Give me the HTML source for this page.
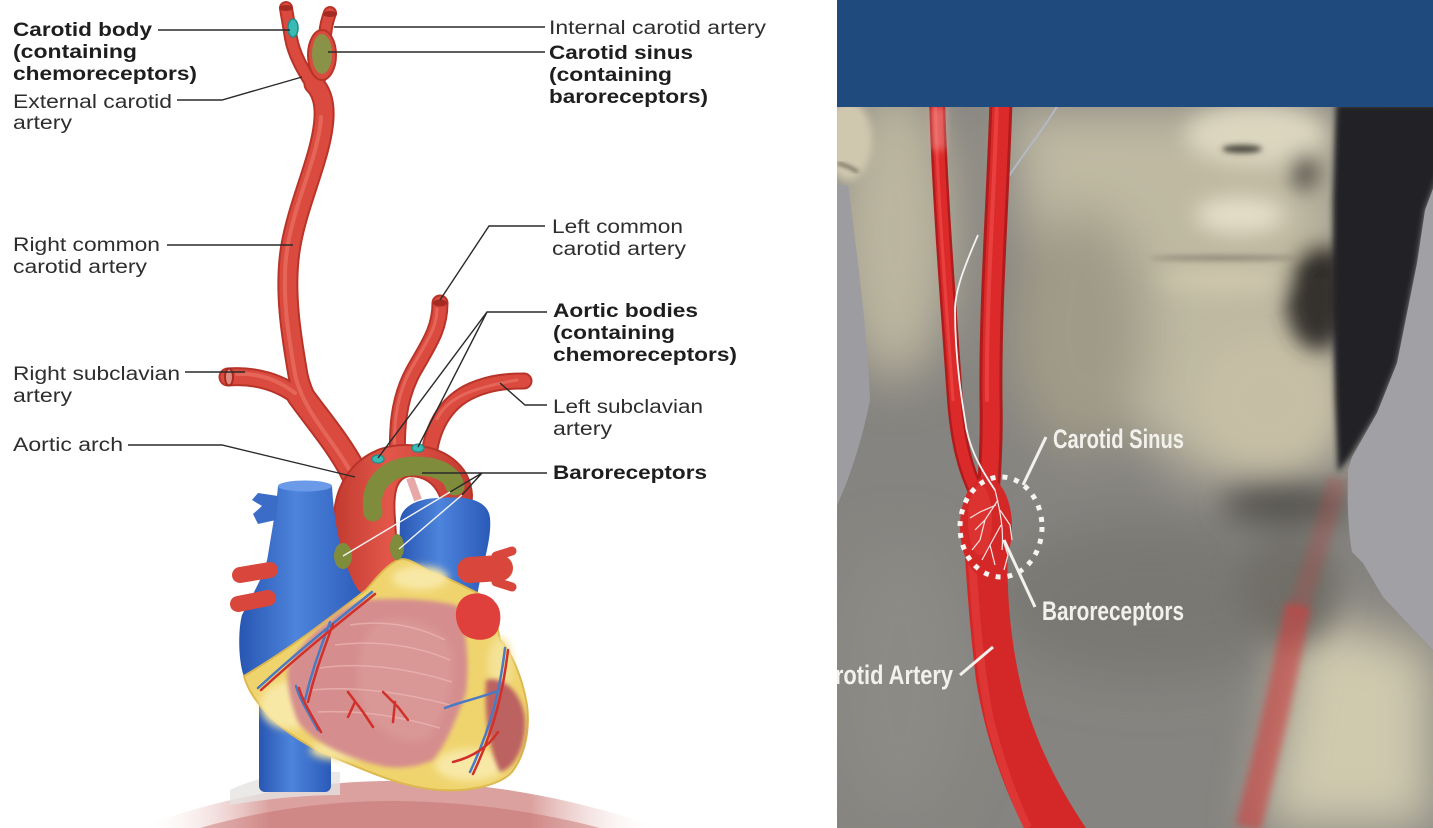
<!DOCTYPE html>
<html><head><meta charset="utf-8"><style>
html,body{margin:0;padding:0;background:#fff;width:1433px;height:828px;overflow:hidden;}
svg{display:block}
.l{font-family:"Liberation Sans",Arial,sans-serif;font-size:19px;fill:#2e2e2e}
.b{font-family:"Liberation Sans",Arial,sans-serif;font-size:19px;font-weight:bold;fill:#1e1e1e}
.w{font-family:"Liberation Sans Narrow","Liberation Sans",Arial,sans-serif;font-size:27px;font-weight:bold;fill:#f2f1ec}
</style></head><body>
<svg width="1433" height="828" viewBox="0 0 1433 828" xmlns="http://www.w3.org/2000/svg">
<defs>
 <filter id="b25" x="-50%" y="-50%" width="200%" height="200%"><feGaussianBlur stdDeviation="25"/></filter>
 <filter id="b15" x="-50%" y="-50%" width="200%" height="200%"><feGaussianBlur stdDeviation="15"/></filter>
 <filter id="b10" x="-50%" y="-50%" width="200%" height="200%"><feGaussianBlur stdDeviation="10"/></filter>
 <filter id="b4" x="-50%" y="-50%" width="200%" height="200%"><feGaussianBlur stdDeviation="4"/></filter>
 <filter id="b3" x="-50%" y="-50%" width="200%" height="200%"><feGaussianBlur stdDeviation="3"/></filter>
 <filter id="b2" x="-20%" y="-20%" width="140%" height="140%"><feGaussianBlur stdDeviation="2"/></filter>
 <clipPath id="rp"><rect x="837" y="107" width="596" height="721"/></clipPath>
 <clipPath id="lp"><rect x="0" y="0" width="837" height="828"/></clipPath>
 <linearGradient id="baseG" x1="0" x2="1" y1="0" y2="0">
  <stop offset="0" stop-color="#fff" stop-opacity="0"/>
  <stop offset="0.25" stop-color="#dba19e"/>
  <stop offset="0.75" stop-color="#dba19e"/>
  <stop offset="1" stop-color="#fff" stop-opacity="0"/>
 </linearGradient>
 <linearGradient id="blueG" x1="0" x2="1" y1="0" y2="0">
  <stop offset="0" stop-color="#2856b2"/>
  <stop offset="0.45" stop-color="#4d84dc"/>
  <stop offset="1" stop-color="#2a5ab8"/>
 </linearGradient>
 <linearGradient id="redG" x1="0" x2="1" y1="0" y2="0">
  <stop offset="0" stop-color="#c23a30"/>
  <stop offset="0.4" stop-color="#e2574a"/>
  <stop offset="1" stop-color="#c43a30"/>
 </linearGradient>
</defs>

<!-- ================= LEFT PANEL ================= -->
<rect x="0" y="0" width="837" height="828" fill="#fff"/>
<g clip-path="url(#lp)">
<path d="M140 828 C220 796 320 780 400 781 C490 782 580 800 660 828 Z" fill="url(#baseG)"/>
<path d="M200 828 C270 808 340 800 400 801 C470 802 540 812 600 828 Z" fill="#c46a68" opacity=".45"/>
<path d="M230 790 C260 775 300 770 340 772 L340 795 C300 795 260 800 230 805 Z" fill="#e6e2e2" opacity=".8"/>

<g fill="none" stroke-linecap="round">
 <g stroke="#b83429">
  <path d="M355 475 C340 445 318 420 300 395" stroke-width="28"/>
  <path d="M352 470 C335 440 305 410 298 375 C292 340 283 290 291 245 C299 200 322 155 324 118 C325 100 320 90 314 84" stroke-width="21"/>
  <path d="M228 377 C255 375 280 382 300 398 C320 415 340 440 352 465" stroke-width="19"/>
  <path d="M313 86 C303 70 294 55 291 38 C289 25 287 15 286 8" stroke-width="14"/>
  <path d="M317 86 C322 70 324 52 325 35 C326 25 328 18 330 13" stroke-width="14"/>
  <path d="M398 470 C396 430 398 400 413 372 C428 345 440 330 440 303" stroke-width="17"/>
  <path d="M428 472 C428 430 445 402 473 390 C492 382 508 381 524 381" stroke-width="17"/>
 </g>
 <g stroke="#da4a3f">
  <path d="M355 475 C340 445 318 420 300 395" stroke-width="24"/>
  <path d="M352 470 C335 440 305 410 298 375 C292 340 283 290 291 245 C299 200 322 155 324 118 C325 100 320 90 314 84" stroke-width="17"/>
  <path d="M228 377 C255 375 280 382 300 398 C320 415 340 440 352 465" stroke-width="15"/>
  <path d="M313 86 C303 70 294 55 291 38 C289 25 287 15 286 8" stroke-width="10"/>
  <path d="M317 86 C322 70 324 52 325 35 C326 25 328 18 330 13" stroke-width="10"/>
  <path d="M398 470 C396 430 398 400 413 372 C428 345 440 330 440 303" stroke-width="13"/>
  <path d="M428 472 C428 430 445 402 473 390 C492 382 508 381 524 381" stroke-width="13"/>
 </g>
 <g stroke="#ee7e70" opacity=".55" transform="translate(-3,-1)">
  <path d="M352 470 C335 440 305 410 298 375 C292 340 283 290 291 245 C299 200 322 155 324 118" stroke-width="4"/>
  <path d="M398 470 C396 430 398 400 413 372 C428 345 440 330 440 310" stroke-width="3"/>
  <path d="M240 375 C260 374 280 380 298 394" stroke-width="4"/>
  <path d="M440 420 C450 400 470 390 520 381" stroke-width="3"/>
 </g>
</g>
<ellipse cx="286" cy="8" rx="7" ry="3" fill="#a42a22"/>
<ellipse cx="330" cy="14" rx="7" ry="3" fill="#a42a22"/>
<ellipse cx="440" cy="303" rx="7" ry="3.5" fill="#a42a22"/>
<ellipse cx="229" cy="377" rx="4" ry="8.5" fill="#e38a80" stroke="#a42a22" stroke-width="2"/>
<ellipse cx="322" cy="55" rx="14" ry="25" fill="#d94a3f" stroke="#b83429" stroke-width="2"/>
<ellipse cx="322" cy="54" rx="10" ry="20" fill="#7f9a48" opacity=".9"/>
<ellipse cx="293" cy="28" rx="5" ry="9" fill="#3bbab3" stroke="#1b8f8a" stroke-width="1.5"/>

<path d="M333 600 L334 520 C334 475 365 445 405 445 C445 445 470 465 472 495 L470 530 L445 530 C445 505 440 478 412 476 C395 476 393 495 395 520 L400 600 Z" fill="url(#redG)" stroke="#b83429" stroke-width="2"/>
<path d="M410 478 L418 500" stroke="#e8a8a8" stroke-width="8"/>
<path d="M373 512 C368 482 390 466 415 466 C440 466 452 475 455 486" fill="none" stroke="#7f8c3c" stroke-width="19" stroke-linecap="round"/>

<path d="M278 486 L332 486 C334 520 340 560 358 590 L366 596 C330 622 290 650 244 677 C238 660 238 630 242 615 C252 595 265 575 268 555 C272 530 276 510 278 486 Z" fill="url(#blueG)"/>
<ellipse cx="305" cy="486" rx="27" ry="5.5" fill="#6a9ae8"/>
<path d="M278 496 L258 493 L252 500 L262 506 L253 514 L258 524 L276 520 Z" fill="#3a6cc8"/>
<rect x="259" y="670" width="72" height="122" rx="6" fill="url(#blueG)"/>
<path d="M398 600 L400 520 C402 505 420 498 440 498 C462 496 488 498 490 518 C492 540 482 565 477 597 L470 600 Z" fill="url(#blueG)"/>
<path d="M470 570 L500 568" stroke="#d9473c" stroke-width="26" stroke-linecap="round"/>
<path d="M496 556 L512 551 M496 582 L512 587" stroke="#d9473c" stroke-width="9" stroke-linecap="round"/>
<path d="M270 570 L240 575" stroke="#d9473c" stroke-width="16" stroke-linecap="round"/>
<path d="M268 598 L238 604" stroke="#d9473c" stroke-width="16" stroke-linecap="round"/>

<path d="M244 676 C250 700 280 735 333 757 C370 772 400 787 440 790 C470 792 500 785 512 772 C525 755 530 730 527 705 C522 675 510 650 500 640 L492 600 C470 590 450 578 430 572 C415 562 405 557 398 560 C385 566 375 580 366 590 C330 618 288 650 244 676 Z" fill="#efd46e" stroke="#dcb84e" stroke-width="2"/>
<g filter="url(#b4)">
 <ellipse cx="290" cy="705" rx="30" ry="24" fill="#f8e8a6"/>
 <ellipse cx="420" cy="578" rx="28" ry="12" fill="#f8e8a6"/>
 <ellipse cx="470" cy="765" rx="35" ry="16" fill="#f8e8a6"/>
 <ellipse cx="500" cy="665" rx="12" ry="28" fill="#f4e296"/>
 <ellipse cx="340" cy="750" rx="30" ry="10" fill="#f6e49c"/>
</g>
<path d="M363 600 C400 597 440 600 458 606 C466 630 470 660 466 693 C456 720 446 745 433 760 C415 768 400 768 387 767 C350 760 312 742 298 722 C290 702 286 682 288 667 C300 645 315 630 330 620 C340 610 352 604 363 600 Z" fill="#d58e8d" filter="url(#b2)"/>
<path d="M380 620 C410 615 440 625 452 650 C455 690 445 720 425 740 C400 745 370 730 360 700 C355 660 360 635 380 620 Z" fill="#dc9e9c" opacity=".6" filter="url(#b4)"/>
<g stroke="#ecb8b6" stroke-width="1.5" fill="none" opacity=".7">
 <path d="M350 625 C385 620 415 625 445 640"/>
 <path d="M335 645 C375 640 415 645 450 660"/>
 <path d="M320 668 C362 662 408 668 452 682"/>
 <path d="M312 690 C352 686 402 692 450 705"/>
 <path d="M318 712 C358 710 400 716 440 728"/>
</g>
<path d="M486 680 C505 675 522 695 525 718 C527 745 515 768 500 772 C490 752 484 722 486 680 Z" fill="#bc6260" filter="url(#b2)"/>
<path d="M461 600 C470 590 488 592 495 602 C503 610 501 626 496 633 C488 643 470 641 462 633 C454 622 454 608 461 600 Z" fill="#e0403c"/>
<g fill="none" stroke-linecap="round">
 <g stroke="#4a7ac4" stroke-width="2.5">
  <path d="M372 592 C345 614 305 645 258 688"/>
  <path d="M330 622 C320 650 312 670 305 700"/>
  <path d="M296 686 C300 700 308 712 318 730"/>
  <path d="M505 648 C500 690 492 725 470 772"/>
  <path d="M500 690 C480 698 460 702 445 708"/>
 </g>
 <g stroke="#d2302a" stroke-width="2.5" transform="translate(3,2)">
  <path d="M372 592 C345 614 305 645 258 688"/>
  <path d="M330 622 C320 650 312 670 305 700"/>
  <path d="M296 686 C300 700 308 712 318 730"/>
  <path d="M505 648 C500 690 492 725 470 772"/>
  <path d="M345 690 L360 710 L370 725 M352 700 L345 715"/>
  <path d="M380 690 L395 705 L405 718 M392 700 L390 720"/>
  <path d="M495 730 C485 745 470 755 450 760"/>
 </g>
</g>
<ellipse cx="343" cy="556" rx="9" ry="13" fill="#7f8c3c"/>
<ellipse cx="397" cy="547" rx="7" ry="13" fill="#7f8c3c"/>
<ellipse cx="378" cy="459" rx="6" ry="4" fill="#3bbab3" stroke="#1b8f8a" stroke-width="1.2"/>
<ellipse cx="418" cy="448" rx="6" ry="4" fill="#3bbab3" stroke="#1b8f8a" stroke-width="1.2"/>

<g stroke="#2a2a2a" stroke-width="1.4" fill="none">
 <path d="M158 30 L290 30"/>
 <path d="M177 100 L222 100 L302 77"/>
 <path d="M167 245 L293 245"/>
 <path d="M185 372 L245 372"/>
 <path d="M128 445 L222 445 L355 477"/>
 <path d="M334 27 L545 27"/>
 <path d="M328 52 L545 52"/>
 <path d="M545 226 L489 226 L440 300"/>
 <path d="M547 312 L487 312 L378 458 M487 312 L418 447"/>
 <path d="M547 405 L525 405 L500 383"/>
 <path d="M547 473 L422 473 M482 473 L450 492 M482 473 L462 495"/>
</g>
<g stroke="#f4f4f4" stroke-width="1.4" fill="none">
 <path d="M450 492 L343 556 M462 495 L399 549"/>
</g>
</g>

<text class="b" x="13" y="36" textLength="139" lengthAdjust="spacingAndGlyphs">Carotid body</text>
<text class="b" x="13" y="58" textLength="124" lengthAdjust="spacingAndGlyphs">(containing</text>
<text class="b" x="13" y="80" textLength="184" lengthAdjust="spacingAndGlyphs">chemoreceptors)</text>
<text class="l" x="13" y="108" textLength="159" lengthAdjust="spacingAndGlyphs">External carotid</text>
<text class="l" x="13" y="129" textLength="59" lengthAdjust="spacingAndGlyphs">artery</text>
<text class="l" x="13" y="251" textLength="147" lengthAdjust="spacingAndGlyphs">Right common</text>
<text class="l" x="13" y="273" textLength="134" lengthAdjust="spacingAndGlyphs">carotid artery</text>
<text class="l" x="13" y="380" textLength="167" lengthAdjust="spacingAndGlyphs">Right subclavian</text>
<text class="l" x="13" y="402" textLength="59" lengthAdjust="spacingAndGlyphs">artery</text>
<text class="l" x="13" y="451" textLength="110" lengthAdjust="spacingAndGlyphs">Aortic arch</text>

<text class="l" x="549" y="34" textLength="217" lengthAdjust="spacingAndGlyphs">Internal carotid artery</text>
<text class="b" x="549" y="59" textLength="144" lengthAdjust="spacingAndGlyphs">Carotid sinus</text>
<text class="b" x="549" y="81" textLength="123" lengthAdjust="spacingAndGlyphs">(containing</text>
<text class="b" x="549" y="103" textLength="159" lengthAdjust="spacingAndGlyphs">baroreceptors)</text>
<text class="l" x="552" y="233" textLength="131" lengthAdjust="spacingAndGlyphs">Left common</text>
<text class="l" x="552" y="255" textLength="134" lengthAdjust="spacingAndGlyphs">carotid artery</text>
<text class="b" x="553" y="317" textLength="145" lengthAdjust="spacingAndGlyphs">Aortic bodies</text>
<text class="b" x="553" y="339" textLength="122" lengthAdjust="spacingAndGlyphs">(containing</text>
<text class="b" x="553" y="361" textLength="184" lengthAdjust="spacingAndGlyphs">chemoreceptors)</text>
<text class="l" x="553" y="413" textLength="150" lengthAdjust="spacingAndGlyphs">Left subclavian</text>
<text class="l" x="553" y="435" textLength="59" lengthAdjust="spacingAndGlyphs">artery</text>
<text class="b" x="553" y="479" textLength="154" lengthAdjust="spacingAndGlyphs">Baroreceptors</text>

<!-- ================= RIGHT PANEL ================= -->
<rect x="837" y="0" width="596" height="108" fill="#1f4a7d"/>
<g clip-path="url(#rp)">
 <rect x="837" y="107" width="596" height="721" fill="#868480"/>
 <g filter="url(#b25)">
  <path d="M1005 107 L1340 107 L1340 470 L1200 480 L1040 350 Z" fill="#bfb9a2"/>
  <ellipse cx="895" cy="230" rx="60" ry="150" fill="#bcb69f"/>
  <ellipse cx="1080" cy="330" rx="70" ry="120" fill="#a09b88"/>
  <ellipse cx="1150" cy="600" rx="160" ry="80" fill="#797873"/>
  <path d="M1300 610 L1433 650 L1433 828 L1260 828 Z" fill="#cfc9ae"/>
  <ellipse cx="900" cy="680" rx="70" ry="140" fill="#8b8a85"/>
 </g>
 <g filter="url(#b15)">
  <ellipse cx="1268" cy="400" rx="70" ry="65" fill="#c6bea4"/>
  <ellipse cx="1290" cy="590" rx="50" ry="55" fill="#716e68"/>
  <ellipse cx="1285" cy="505" rx="65" ry="20" fill="#55534d"/>
 </g>
 <g filter="url(#b10)">
  <ellipse cx="1255" cy="135" rx="70" ry="30" fill="#dcd6bf"/>
  <ellipse cx="1240" cy="215" rx="45" ry="18" fill="#e4dec8"/>
  <ellipse cx="1245" cy="246" rx="90" ry="10" fill="#bfb8a0"/>
  <ellipse cx="1225" cy="280" rx="65" ry="14" fill="#cdc6ac"/>
  <ellipse cx="1318" cy="300" rx="32" ry="50" fill="#34332f"/>
  <ellipse cx="1322" cy="262" rx="25" ry="18" fill="#302f2c"/>
  <ellipse cx="1305" cy="172" rx="14" ry="20" fill="#5e5b52"/>
 </g>
 <g filter="url(#b3)">
  <ellipse cx="1225" cy="258" rx="75" ry="2.5" fill="#8a8373"/>
  <ellipse cx="1242" cy="149" rx="20" ry="4" fill="#4a463e"/>
 </g>
 <!-- dark hair/shadow -->
 <path d="M1336 104 L1440 104 L1440 170 L1425 210 L1417 263 L1407 313 L1397 363 L1377 413 L1350 457 L1338 472 L1335 400 L1333 300 L1333 200 Z" fill="#202228" filter="url(#b3)"/>
 <!-- right background -->
 <path d="M1440 170 L1425 210 L1417 263 L1407 313 L1397 363 L1377 413 L1352 457 L1348 470 C1347 500 1348 530 1352 552 L1363 563 L1383 597 L1433 650 L1440 650 Z" fill="#a1a1a5"/>
 <!-- left background -->
 <path d="M830 185 L848 185 C858 260 868 340 870 400 C862 440 850 480 830 520 Z" fill="#9d9da1"/>
 <ellipse cx="848" cy="140" rx="24" ry="40" fill="#d0c8ae" filter="url(#b4)"/>
 <path d="M837 163 C845 165 852 168 858 172" stroke="#3a352e" stroke-width="2" fill="none" filter="url(#b2)"/>

 <!-- faded vessel -->
 <path d="M1337 478 C1325 530 1308 580 1296 615" stroke="#c04040" stroke-width="20" fill="none" opacity=".25" filter="url(#b4)"/>
 <path d="M1298 605 C1284 680 1265 760 1248 828" stroke="#d04040" stroke-width="26" fill="none" opacity=".6" filter="url(#b4)"/>

 <path d="M1058 105 C1040 135 1018 160 1000 190" stroke="#b4b8c4" stroke-width="2" fill="none"/>
 <g fill="none" stroke-linecap="round">
  <path d="M937 100 C940 200 948 300 955 400 C958 440 965 470 978 495" stroke="#b01c1c" stroke-width="16"/>
  <path d="M1001 100 C998 200 990 300 991 400 C992 440 990 470 988 495" stroke="#b01c1c" stroke-width="23"/>
  <path d="M937 100 C940 200 948 300 955 400 C958 440 965 470 978 495" stroke="#dc2a2a" stroke-width="11"/>
  <path d="M1001 100 C998 200 990 300 991 400 C992 440 990 470 988 495" stroke="#dc2a2a" stroke-width="17"/>
  <path d="M935 100 C938 200 946 300 953 400" stroke="#f0504c" stroke-width="3" opacity=".6"/>
  <path d="M997 100 C994 200 986 300 987 400" stroke="#f0504c" stroke-width="4" opacity=".6"/>
 </g>
 <path d="M929 107 L946 107 L946 150 L931 150 Z" fill="#f2b0a8" opacity=".45" filter="url(#b4)"/>
 <path d="M963 520 C966 580 970 630 976 680 C984 730 1000 780 1024 828 L1086 828 C1060 790 1034 740 1022 690 C1010 640 1006 590 1008 540 Z" fill="#d42828"/>
 <path d="M972 560 C976 620 980 670 990 720 C1000 760 1012 795 1028 828" stroke="#e84440" stroke-width="8" fill="none" opacity=".5"/>
 <ellipse cx="986" cy="527" rx="26" ry="50" fill="#d42828"/>
 <ellipse cx="980" cy="520" rx="12" ry="35" fill="#e23a36" opacity=".6"/>
 <path d="M978 235 C965 265 955 290 955 310 C955 350 960 390 965 420 C968 445 978 465 995 490" stroke="#f2f2f2" stroke-width="1.8" fill="none"/>
 <g stroke="#f4e6e4" stroke-width="1.2" fill="none">
  <path d="M995 490 C1000 510 1004 530 1002 550"/>
  <path d="M998 500 L985 520 L975 530 M985 520 L980 540 L972 550"/>
  <path d="M1000 510 L1010 525 L1012 540"/>
  <path d="M1001 525 L990 545 L982 560 M990 545 L995 565"/>
  <path d="M1003 540 L1008 555 L1004 570"/>
  <path d="M996 505 L980 512 L970 518"/>
 </g>
 <ellipse cx="1001" cy="527" rx="41" ry="50" fill="none" stroke="#f4f4f2" stroke-width="5" stroke-dasharray="5 7"/>
 <g stroke="#f2f1ec" stroke-width="3" fill="none">
  <path d="M1046 437 L1023 485"/>
  <path d="M1035 607 L1004 540"/>
  <path d="M960 675 L993 647"/>
 </g>
 <text class="w" x="1053" y="448" textLength="131" lengthAdjust="spacingAndGlyphs">Carotid Sinus</text>
 <text class="w" x="1042" y="620" textLength="142" lengthAdjust="spacingAndGlyphs">Baroreceptors</text>
 <text class="w" x="807" y="684" textLength="146" lengthAdjust="spacingAndGlyphs">Carotid Artery</text>
</g>
</svg>
</body></html>
